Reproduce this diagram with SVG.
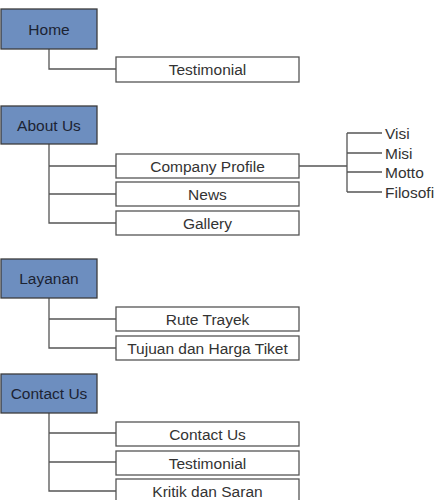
<svg xmlns="http://www.w3.org/2000/svg" width="438" height="500" viewBox="0 0 438 500">
<style>
.hd rect{fill:#6d8ebf;stroke:#3c3c3c;stroke-width:1.3}
.ch rect{fill:#ffffff;stroke:#555555;stroke-width:1.3}
text{font-family:"Liberation Sans",Arial,sans-serif;font-size:15.5px;fill:#333333;text-anchor:middle}
.hd text{fill:#1c2333}
.lf{text-anchor:start}
#connectors path{fill:none;stroke:#555555;stroke-width:1.3}
</style>
<rect width="438" height="500" fill="#ffffff"/>
<g id="connectors">
<path d="M49 49V69H116"/>
<path d="M49 144V223H116M49 166H116M49 194H116"/>
<path d="M299 166H347M347 133V192M347 133H382M347 153H382M347 172H382M347 192H382"/>
<path d="M49 298V348H116M49 319H116"/>
<path d="M49 413V491H116M49 433H116M49 462H116"/>
</g>
<g id="home" class="hd"><rect x="1" y="9" width="96" height="40"/><text x="49" y="34.5">Home</text></g>
<g id="home-testimonial" class="ch"><rect x="116" y="57" width="183" height="25"/><text x="207.5" y="75">Testimonial</text></g>
<g id="about" class="hd"><rect x="1" y="106" width="96" height="38"/><text x="49" y="130.5">About Us</text></g>
<g id="company" class="ch"><rect x="116" y="154" width="183" height="24"/><text x="207.5" y="171.5">Company Profile</text></g>
<g id="news" class="ch"><rect x="116" y="182" width="183" height="24"/><text x="207.5" y="199.5">News</text></g>
<g id="gallery" class="ch"><rect x="116" y="211" width="183" height="24"/><text x="207.5" y="228.5">Gallery</text></g>
<g id="visi"><text class="lf" x="385" y="138.5">Visi</text></g>
<g id="misi"><text class="lf" x="385" y="158.5">Misi</text></g>
<g id="motto"><text class="lf" x="385" y="177.5">Motto</text></g>
<g id="filosofi"><text class="lf" x="385" y="197.5">Filosofi</text></g>
<g id="layanan" class="hd"><rect x="1" y="259" width="96" height="39"/><text x="49" y="284">Layanan</text></g>
<g id="rute" class="ch"><rect x="116" y="307" width="183" height="24"/><text x="207.5" y="324.5">Rute Trayek</text></g>
<g id="tujuan" class="ch"><rect x="116" y="336" width="183" height="24"/><text x="207.5" y="353.5">Tujuan dan Harga Tiket</text></g>
<g id="contact" class="hd"><rect x="1" y="374" width="96" height="39"/><text x="49" y="399">Contact Us</text></g>
<g id="contact-us" class="ch"><rect x="116" y="422" width="183" height="24"/><text x="207.5" y="439.5">Contact Us</text></g>
<g id="contact-testimonial" class="ch"><rect x="116" y="451" width="183" height="24"/><text x="207.5" y="468.5">Testimonial</text></g>
<g id="kritik" class="ch"><rect x="116" y="479" width="183" height="26"/><text x="207.5" y="496.5">Kritik dan Saran</text></g>
</svg>
